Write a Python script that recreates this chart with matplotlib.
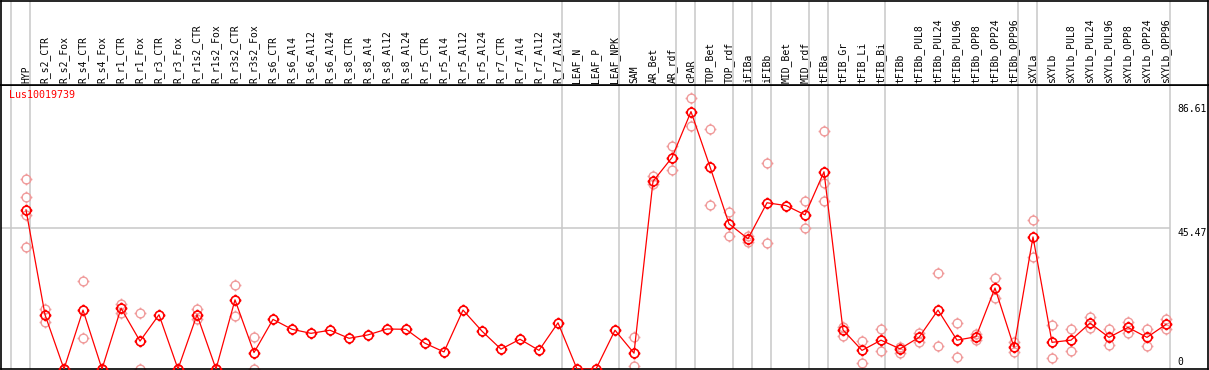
import numpy as np
import matplotlib
matplotlib.use('Agg')
import matplotlib.pyplot as plt
from matplotlib.path import Path

gene = 'Lus10019739'

samples = ['HYP', 'R_s2_CTR', 'R_s2_Fox', 'R_s4_CTR', 'R_s4_Fox', 'R_r1_CTR', 'R_r1_Fox',
           'R_r3_CTR', 'R_r3_Fox', 'R_r1s2_CTR', 'R_r1s2_Fox', 'R_r3s2_CTR', 'R_r3s2_Fox',
           'R_s6_CTR', 'R_s6_Al4', 'R_s6_Al12', 'R_s6_Al24', 'R_s8_CTR', 'R_s8_Al4',
           'R_s8_Al12', 'R_s8_Al24', 'R_r5_CTR', 'R_r5_Al4', 'R_r5_Al12', 'R_r5_Al24',
           'R_r7_CTR', 'R_r7_Al4', 'R_r7_Al12', 'R_r7_Al24', 'LEAF_N', 'LEAF_P', 'LEAF_NPK',
           'SAM', 'AR_Bet', 'AR_rdf', 'cPAR', 'TOP_Bet', 'TOP_rdf', 'iFIBa', 'iFIBb',
           'MID_Bet', 'MID_rdf', 'tFIBa', 'tFIB_Gr', 'tFIB_Li', 'tFIB_Bi', 'tFIBb',
           'tFIBb_PUL8', 'tFIBb_PUL24', 'tFIBb_PUL96', 'tFIBb_OPP8', 'tFIBb_OPP24',
           'tFIBb_OPP96', 'sXYLa', 'sXYLb', 'sXYLb_PUL8', 'sXYLb_PUL24', 'sXYLb_PUL96',
           'sXYLb_OPP8', 'sXYLb_OPP24', 'sXYLb_OPP96']

means = [51.3, 17.5, 0, 19.0, 0, 19.6, 9.0, 17.5, 0, 17.5,
         0, 22.3, 5.3, 16.0, 12.8, 11.5, 12.5, 9.9, 11.0, 12.9,
         12.8, 8.3, 5.5, 19.0, 12.2, 6.4, 9.6, 6.0, 14.9, 0,
         0, 12.5, 5.1, 60.5, 68.2, 83.0, 65.2, 46.8, 42.0, 53.6,
         52.7, 49.7, 63.6, 12.6, 6.0, 9.3, 6.5, 10.2, 19.0, 9.3,
         10.4, 26.1, 7.0, 42.6, 8.6, 9.3, 14.8, 10.2, 13.4, 10.2, 14.4]

replicates = [[61.3, 55.5, 49.5, 39.5], [19.4, 15.3], [0, 0], [28.3, 9.9], [0, 0],
              [21.1, 18.0], [18.0, 0], [], [0, 0], [19.2, 16.1],
              [0, 0], [27.0, 17.0], [10.2, 0], [], [], [], [], [], [], [],
              [], [], [], [], [], [], [], [], [], [],
              [], [], [10.2, 1.0], [62.1, 59.8], [72.0, 64.2], [87.5, 78.4],
              [77.5, 52.9], [50.6, 42.9], [42.8, 40.8], [66.3, 40.6],
              [], [54.2, 45.4], [76.8, 60.0, 54.2], [13.7, 10.8], [8.9, 1.9],
              [12.8, 5.7], [7.1, 5.3], [11.7, 8.8], [30.9, 7.3], [14.8, 3.8],
              [11.2, 9.4], [29.3, 22.8], [8.6, 5.5], [48.1, 36.0], [14.2, 3.4],
              [12.8, 5.7], [16.7, 13.1], [12.8, 7.9], [15.3, 11.7], [12.8, 7.5], [16.1, 12.8]]

# last sample of each group (separator drawn after it)
group_ends = [-1, 0, 28, 31, 34, 35, 37, 38, 39, 41, 42, 45, 52, 53, 60]
y_labels = [86.61, 45.47, 0]

W, H = 1209, 370
fig = plt.figure(figsize=(W / 100, H / 100), dpi=100)


def box(x0, y0, x1, y1):
    # pixel box, origin top left -> figure fraction
    return [x0 / W, 1 - y1 / H, (x1 - x0) / W, (y1 - y0) / H]


ax = fig.add_axes(box(1, 85, 1208, 369))
hx = fig.add_axes(box(1, 0.5, 1208, 85))

xlim = (-25 / 19, 1182 / 19)
for a in (ax, hx):
    a.set_xlim(xlim)
    a.set_xticks([])
    a.set_yticks([])
    for s in a.spines.values():
        s.set_color('black')
        s.set_linewidth(1.2)
ax.set_ylim(0, 91.58)
hx.set_ylim(0, 1)

grey = '#c8c8c8'
off = 4 / 19
for k in group_ends:
    for a in (ax, hx):
        a.axvline(k + off, color=grey, lw=1.1, zorder=0)
ax.hlines(45.47, xlim[0], group_ends[-1] + off, color=grey, lw=1.1, zorder=0)

# circle with little ticks
circ = Path.unit_circle()
ticks = []
for dx, dy in [(0, 1), (0, -1), (1, 0), (-1, 0)]:
    ticks.append(Path([(dx, dy), (dx * 1.35, dy * 1.35)], [Path.MOVETO, Path.LINETO]))
marker = Path.make_compound_path(circ, *ticks)

x = np.arange(len(samples))
for i, r in enumerate(replicates):
    if r:
        ax.plot([i] * len(r), r, ls='none', marker=marker, ms=8.5, mfc='none',
                mec='#f09c9c', mew=1.0, zorder=2)
ax.plot(x, means, color='#ff0000', lw=0.9, marker=marker, ms=8.5, mfc='none',
        mec='#ff0000', mew=1.2, zorder=3)

mono = 'DejaVu Sans Mono'
for i, name in enumerate(samples):
    hx.text(i, 2 / 85, name, rotation=90, ha='center', va='bottom',
            family=mono, fontsize=7, color='black')

ax.text(-0.9, 88.5, gene, color='#ff0000', family=mono, fontsize=7.2,
        va='center', ha='left')

lx = group_ends[-1] + 0.6
ax.text(lx, y_labels[0] - 1.0, f'{y_labels[0]:.2f}', family=mono, fontsize=7,
        va='top', ha='left')
ax.text(lx, y_labels[1], f'{y_labels[1]:.2f}', family=mono, fontsize=7,
        va='top', ha='left')
ax.text(lx, 0.6, '0', family=mono, fontsize=7, va='bottom', ha='left')

fig.savefig('out.png', dpi=100)
